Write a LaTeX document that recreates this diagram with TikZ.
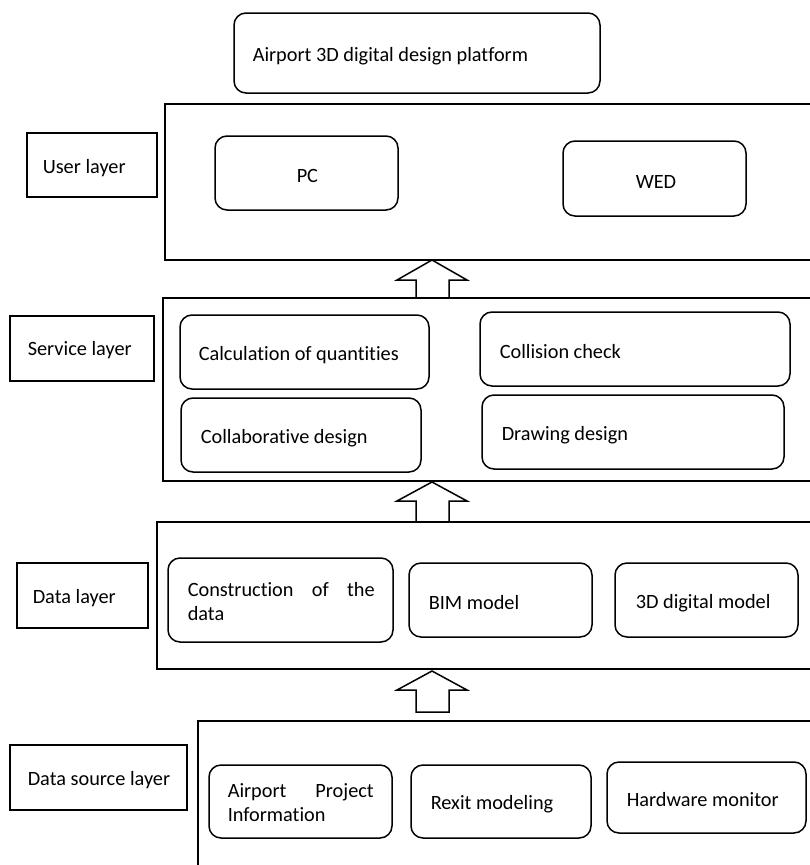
\documentclass[tikz,border=0pt]{standalone}
\usepackage{fontspec}
\setmainfont{Carlito}[Ligatures=NoCommon]
\begin{document}
\begin{tikzpicture}[x=1pt,y=-1pt,
  line width=1.5pt,
  rbox/.style={draw, rounded corners=12pt},
  sbox/.style={draw},
  lbl/.style={anchor=west, inner sep=0pt, yshift=-2pt, font=\fontsize{20.3}{24}\selectfont},
  blockarrow/.style={draw, line width=1.5pt, fill=white}]
\useasboundingbox (0,0) rectangle (810,865);
\clip (0,0) rectangle (810,865);
% title
\draw[rbox] (234,13) rectangle (600,93);
\node[lbl] (title) at (252,54) {Airport 3D digital design platform};
% user layer
\draw[sbox] (165,104) rectangle (830,260);
\draw[sbox] (27,133) rectangle (157,197);
\node[lbl] (user) at (42,166) {User layer};
\draw[rbox] (215,136) rectangle (398,210);
\node[lbl] (pc) at (296,174) {PC};
\draw[rbox] (563,141) rectangle (746,216);
\node[lbl] (wed) at (635,180) {WED};
% arrow 1
\draw[blockarrow] (416,298) -- (416,280) -- (397,280) -- (432,260) -- (467,280) -- (449,280) -- (449,298);
% service layer
\draw[sbox] (163,298) rectangle (830,481);
\draw[sbox] (10,316) rectangle (154,381);
\node[lbl] (service) at (27,348) {Service layer};
\draw[rbox] (180,315) rectangle (429,389);
\node[lbl] (calc) at (198,353) {Calculation of quantities};
\draw[rbox] (480,312) rectangle (790,386);
\node[lbl] (coll) at (499,350) {Collision check};
\draw[rbox] (181,398) rectangle (421,472);
\node[lbl] (collab) at (200,436) {Collaborative design};
\draw[rbox] (482,395) rectangle (784,469);
\node[lbl] (draw) at (501,433) {Drawing design};
% arrow 2
\draw[blockarrow] (416,522) -- (416,501) -- (397,501) -- (432,482) -- (467,501) -- (449,501) -- (449,522);
% data layer
\draw[sbox] (157,522) rectangle (830,669);
\draw[sbox] (17,563) rectangle (148,628);
\node[lbl] (datal) at (32,596) {Data layer};
\draw[rbox] (168,558) rectangle (393,642);
\node[lbl] (constr) at (187,602) {\begin{tabular}{@{}l@{}}\makebox[187pt][s]{Construction of the}\\ data\end{tabular}};
\draw[rbox] (409,563) rectangle (592,637);
\node[lbl] (bim) at (428,601) {BIM model};
\draw[rbox] (615,563) rectangle (798,637);
\node[lbl] (dig) at (635,601) {3D digital model};
% arrow 3
\draw[blockarrow] (416,712) -- (416,690) -- (397,690) -- (432,671) -- (467,690) -- (449,690) -- (449,712) -- cycle;
% data source layer
\draw[sbox] (198,880) -- (198,721) -- (830,721);
\draw[sbox] (10,745) rectangle (187,810);
\node[lbl] (dsl) at (27,778) {Data source layer};
\draw[rbox] (209,765) rectangle (392,838);
\node[lbl] (api) at (227,803) {\begin{tabular}{@{}l@{}}\makebox[146pt][s]{Airport Project}\\ Information\end{tabular}};
\draw[rbox] (411,765) rectangle (591,838);
\node[lbl] (rexit) at (430,802) {Rexit modeling};
\draw[rbox] (607,762) rectangle (806,833);
\node[lbl] (hw) at (626,798) {Hardware monitor};
\end{tikzpicture}
\end{document}
